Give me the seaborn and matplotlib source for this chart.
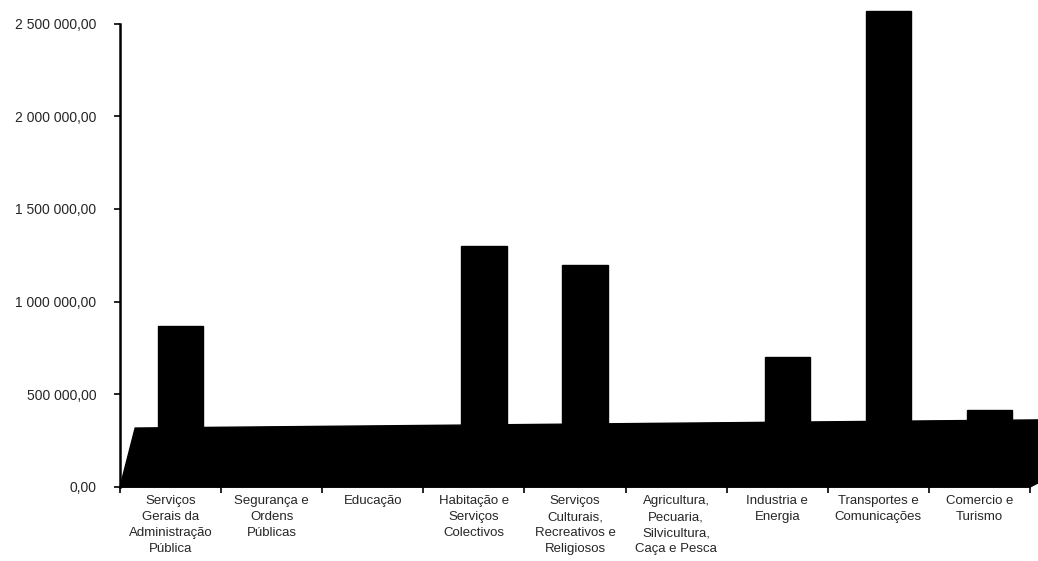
import matplotlib
matplotlib.use("Agg")
import matplotlib.pyplot as plt
import seaborn as sns
import pandas as pd
from matplotlib.patches import Polygon
from matplotlib.ticker import FuncFormatter, FixedLocator

categorias = ["Serviços\nGerais da\nAdministração\nPública",
              "Segurança e\nOrdens\nPúblicas",
              "Educação",
              "Habitação e\nServiços\nColectivos",
              "Serviços\nCulturais,\nRecreativos e\nReligiosos",
              "Agricultura,\nPecuaria,\nSilvicultura,\nCaça e Pesca",
              "Industria e\nEnergia",
              "Transportes e\nComunicações",
              "Comercio e\nTurismo"]
valores = [870000, 0, 0, 1300000, 1200000, 0, 700000, 2570000, 415000]
yticks = [0, 500000, 1000000, 1500000, 2000000, 2500000]

df = pd.DataFrame({"cat": categorias, "valor": valores})

sns.set_style("white")
plt.rcParams["font.family"] = ["Liberation Sans Narrow", "Liberation Sans", "DejaVu Sans"]

fig = plt.figure(figsize=(10.38, 5.61), dpi=100)
ax = fig.add_axes([120 / 1038, 74 / 561, 910 / 1038, 482 / 561])

sns.barplot(data=df, x="cat", y="valor", color="black", width=0.45,
            saturation=1, ax=ax, zorder=3)
for p in ax.patches:
    p.set_x(p.get_x() + 0.1)
    p.set_edgecolor("black")

# 3D floor band
floor = Polygon([(-0.5, 0), (-0.35, 318000), (8.59, 362000),
                 (8.59, 25000), (8.5, 0)],
                closed=True, facecolor="black", edgecolor="black",
                zorder=4, clip_on=False)
ax.add_patch(floor)

ax.set_xlim(-0.5, 8.5)
ax.set_ylim(0, 2600000)
ax.set_xlabel("")
ax.set_ylabel("")

ax.yaxis.set_major_locator(FixedLocator(yticks))
ax.yaxis.set_major_formatter(FuncFormatter(
    lambda v, pos: f"{v:,.2f}".replace(",", " ").replace(".", ",")))
ax.tick_params(axis="y", length=4, width=1.2, color="black", labelsize=10,
               direction="out", left=True, pad=13)

ax.set_xticks(range(len(categorias)))
ax.set_xticklabels(categorias, fontsize=9.5, linespacing=1.45, va="top")
ax.set_xticks([i - 0.5 for i in range(len(categorias) + 1)], minor=True)
ax.tick_params(axis="x", which="major", length=0, pad=6)
ax.tick_params(axis="x", which="minor", length=4, width=1.2, color="black",
               direction="out", bottom=True)

for s in ["top", "right"]:
    ax.spines[s].set_visible(False)
ax.spines["left"].set_bounds(0, 2500000)
ax.spines["left"].set_linewidth(1.8)
ax.spines["left"].set_color("black")
ax.spines["bottom"].set_linewidth(1.2)
ax.spines["bottom"].set_color("black")

fig.savefig("out.png", dpi=100)
